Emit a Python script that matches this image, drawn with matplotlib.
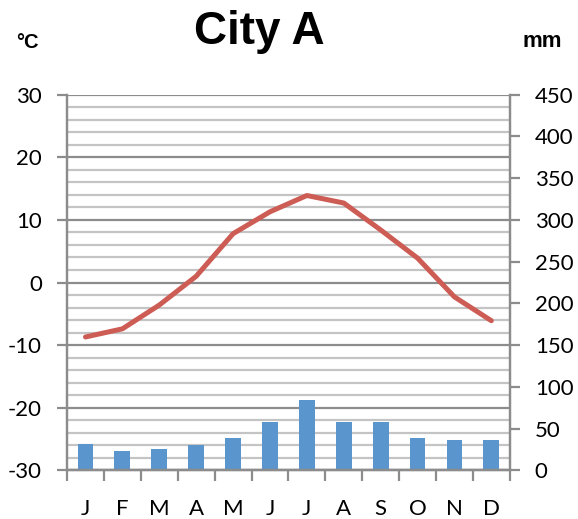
import numpy as np
import matplotlib.pyplot as plt

months = ["J", "F", "M", "A", "M", "J", "J", "A", "S", "O", "N", "D"]
temp_c = [-8.7, -7.4, -3.6, 1.0, 7.8, 11.3, 13.9, 12.7, 8.4, 3.9, -2.3, -6.1]
precip_mm = [31, 23, 26, 30, 39, 58, 84, 58, 58, 39, 36, 36]

title = "City A"
left_unit = "°C"
right_unit = "mm"

grid_major = "#8c8c8c"
grid_minor = "#c4c4c4"
bar_color = "#5b95cd"
line_color = "#cd5c55"

plt.rcParams["axes.unicode_minus"] = False

fig = plt.figure(figsize=(5.78, 5.19), dpi=100)
ax = fig.add_axes([0.116, 0.0938, 0.766, 0.7237])
ax2 = ax.twinx()
ax3 = ax.twinx()

x = np.arange(len(months))

# temperature axis with the grid (drawn at the back)
ax.set_ylim(-30, 30)
ax.set_xlim(-0.5, len(months) - 0.5)
ax.set_yticks(np.arange(-30, 31, 10))
ax.set_yticks(np.arange(-30, 31, 2), minor=True)
ax.grid(True, which="major", axis="y", color=grid_major, linewidth=1.6)
ax.grid(True, which="minor", axis="y", color=grid_minor, linewidth=1.6)
ax.set_xticks(np.arange(-0.5, len(months), 1))
ax.set_xticklabels([])
ax.set_xticks(x, minor=True)
ax.set_xticklabels(months, minor=True)
ax.tick_params(axis="x", which="major", direction="out", length=8, width=1.6, color=grid_major)
ax.tick_params(axis="x", which="minor", length=0, pad=21, labelsize=16)
ax.tick_params(axis="y", which="major", direction="out", length=7, width=1.6, color=grid_major,
               labelsize=16, pad=11)
ax.tick_params(axis="y", which="minor", length=0)

# precipitation bars on the right axis
ax2.bar(x, precip_mm, width=0.43, color=bar_color, zorder=2)
ax2.set_ylim(0, 450)
ax2.set_yticks(np.arange(0, 451, 50))
ax2.tick_params(axis="y", direction="out", length=7, width=1.6, color=grid_major,
                labelsize=16, pad=11)

# temperature line on top
ax3.plot(x, temp_c, color=line_color, linewidth=3.6, solid_capstyle="round")
ax3.set_ylim(-30, 30)
ax3.set_yticks([])

for a in (ax, ax2, ax3):
    a.spines["top"].set_visible(False)
    for s in ("left", "right", "bottom"):
        a.spines[s].set_color(grid_major)
        a.spines[s].set_linewidth(1.6)
ax3.spines["left"].set_visible(False)
ax3.spines["right"].set_visible(False)

for lab in ax.get_yticklabels(minor=False) + ax2.get_yticklabels() + ax.get_xticklabels(minor=True):
    lab.set_fontfamily("Lato")

fig.text(0.448, 0.915, title, ha="center", va="baseline", fontsize=33, fontweight="bold",
         family="Liberation Sans")
fig.text(0.047, 0.9075, left_unit, ha="center", va="baseline", fontsize=14.5, fontweight="bold",
         family="Liberation Sans")
fig.text(0.938, 0.909, right_unit, ha="center", va="baseline", fontsize=16, fontweight="bold",
         family="Liberation Sans")

fig.savefig("out.png", dpi=100)
